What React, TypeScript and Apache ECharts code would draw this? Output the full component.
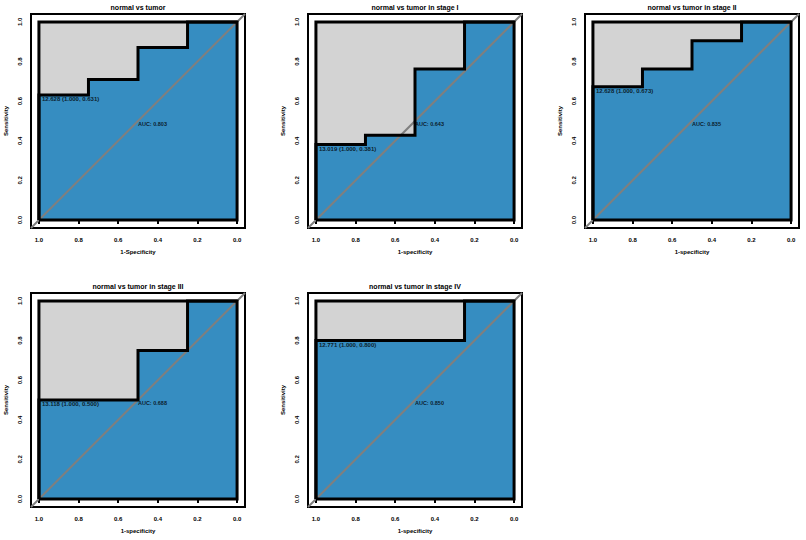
import React, { useEffect, useRef } from "react";
import * as echarts from "echarts";

const panelTitles = [
  "normal vs tumor",
  "normal vs tumor in stage I",
  "normal vs tumor in stage II",
  "normal vs tumor in stage III",
  "normal vs tumor in stage IV",
];
const xAxisNames = ["1-Specificity", "1-specificity", "1-specificity", "1-specificity", "1-specificity"];
const yAxisName = "Sensitivity";
// specificity steps (x axis, reversed 1.0 -> 0.0)
const specSteps = [1, 0.75, 0.5, 0.25, 0];
// sensitivity level held on each specificity step
const sensLevels = [
  [0.631, 0.71, 0.871, 1],
  [0.381, 0.428, 0.762, 1],
  [0.673, 0.762, 0.905, 1],
  [0.5, 0.5, 0.75, 1],
  [0.8, 0.8, 0.8, 1],
];
const thresholds = [12.628, 13.019, 12.628, 13.118, 12.771];
const aucValues = [0.803, 0.643, 0.835, 0.688, 0.85];
const tickValues = [0, 0.2, 0.4, 0.6, 0.8, 1];

const FONT = "Liberation Sans, Arial, sans-serif";
const BLUE = "#368dc1";
const GRAY = "#d3d3d3";

const frames = [
  { left: 31, top: 14 },
  { left: 308, top: 14 },
  { left: 585, top: 14 },
  { left: 31, top: 293 },
  { left: 308, top: 293 },
];
const FRAME = 214;

function rocPoints(levels: number[]): number[][] {
  const pts: number[][] = [[specSteps[0], 0]];
  for (let i = 0; i < levels.length; i++) {
    pts.push([specSteps[i], levels[i]]);
    pts.push([specSteps[i + 1], levels[i]]);
  }
  return pts;
}

export default function App() {
  const ref = useRef<HTMLDivElement>(null);
  useEffect(() => {
    if (!ref.current) return;
    const chart = echarts.init(ref.current, null, { renderer: "svg" });
    const grid: any[] = [];
    const xAxis: any[] = [];
    const yAxis: any[] = [];
    const series: any[] = [];
    const graphic: any[] = [];
    const labelStyle = { fontSize: 6, fontWeight: "bold", color: "#000", fontFamily: FONT };
    frames.forEach((f, i) => {
      grid.push({
        left: f.left,
        top: f.top,
        width: FRAME,
        height: FRAME,
        show: true,
        borderColor: "#000",
        borderWidth: 2,
        backgroundColor: "#fff",
      });
      const axisCommon = {
        gridIndex: i,
        type: "value",
        min: -0.04,
        max: 1.04,
        axisLine: { show: false },
        splitLine: { show: false },
        axisTick: {
          show: true,
          length: 4,
          customValues: tickValues,
          lineStyle: { color: "#000", width: 2 },
        },
        nameLocation: "middle",
        nameTextStyle: { fontSize: 6, fontWeight: "bold", color: "#000", fontFamily: FONT },
      };
      xAxis.push({
        ...axisCommon,
        inverse: true,
        name: xAxisNames[i],
        nameGap: 21,
        axisLabel: {
          ...labelStyle,
          customValues: tickValues,
          margin: 9,
          formatter: (v: number) => v.toFixed(1),
        },
      });
      yAxis.push({
        ...axisCommon,
        name: yAxisName,
        nameGap: 22,
        axisLabel: {
          ...labelStyle,
          customValues: tickValues,
          margin: 8,
          rotate: 90,
          formatter: (v: number) => v.toFixed(1),
        },
      });
      const pts = rocPoints(sensLevels[i]);
      const common = {
        type: "line",
        xAxisIndex: i,
        yAxisIndex: i,
        symbol: "none",
        silent: true,
        animation: false,
      };
      series.push({
        ...common,
        z: 1,
        data: [
          [1, 1],
          [0, 1],
        ],
        lineStyle: { width: 0, opacity: 0 },
        areaStyle: { color: GRAY, opacity: 1, origin: "auto" },
      });
      series.push({
        ...common,
        z: 2,
        data: pts,
        lineStyle: { width: 0, opacity: 0 },
        areaStyle: { color: BLUE, opacity: 1, origin: "auto" },
      });
      series.push({
        ...common,
        z: 3,
        data: [
          [1.04, -0.04],
          [-0.04, 1.04],
        ],
        lineStyle: { color: "#7f7f7f", width: 2 },
      });
      series.push({
        ...common,
        z: 4,
        data: [
          [1, 0],
          [1, 1],
          [0, 1],
          [0, 0],
          [1, 0],
        ],
        lineStyle: { color: "#000", width: 3, join: "miter" },
      });
      series.push({
        ...common,
        z: 4,
        data: pts,
        lineStyle: { color: "#000", width: 3, join: "miter" },
      });
      const s0 = sensLevels[i][0];
      series.push({
        type: "scatter",
        xAxisIndex: i,
        yAxisIndex: i,
        z: 5,
        silent: true,
        symbolSize: 0.1,
        itemStyle: { color: "rgba(0,0,0,0)" },
        data: [
          {
            value: [1, s0],
            label: {
              show: true,
              position: [3, 1],
              align: "left",
              verticalAlign: "top",
              formatter: `${thresholds[i].toFixed(3)} (1.000, ${s0.toFixed(3)})`,
              fontSize: 6,
              fontWeight: "bold",
              color: "#000",
              fontFamily: FONT,
            },
          },
          {
            value: [0.5, 0.5],
            label: {
              show: true,
              position: [0, 0],
              align: "left",
              verticalAlign: "top",
              formatter: `AUC: ${aucValues[i].toFixed(3)}`,
              fontSize: 5.5,
              fontWeight: "bold",
              color: "#000",
              fontFamily: FONT,
            },
          },
        ],
      });
      graphic.push({
        type: "text",
        x: f.left + FRAME / 2,
        y: f.top - 7,
        style: {
          text: panelTitles[i],
          textAlign: "center",
          textVerticalAlign: "middle",
          fontSize: 7,
          fontWeight: "bold",
          fill: "#000",
          fontFamily: FONT,
        },
      });
    });
    chart.setOption({
      animation: false,
      backgroundColor: "#fff",
      grid,
      xAxis,
      yAxis,
      series,
      graphic,
    });
    return () => chart.dispose();
  }, []);
  return (
    <div
      ref={ref}
      style={{ position: "absolute", left: 0, top: 0, width: 806, height: 540 }}
    />
  );
}
